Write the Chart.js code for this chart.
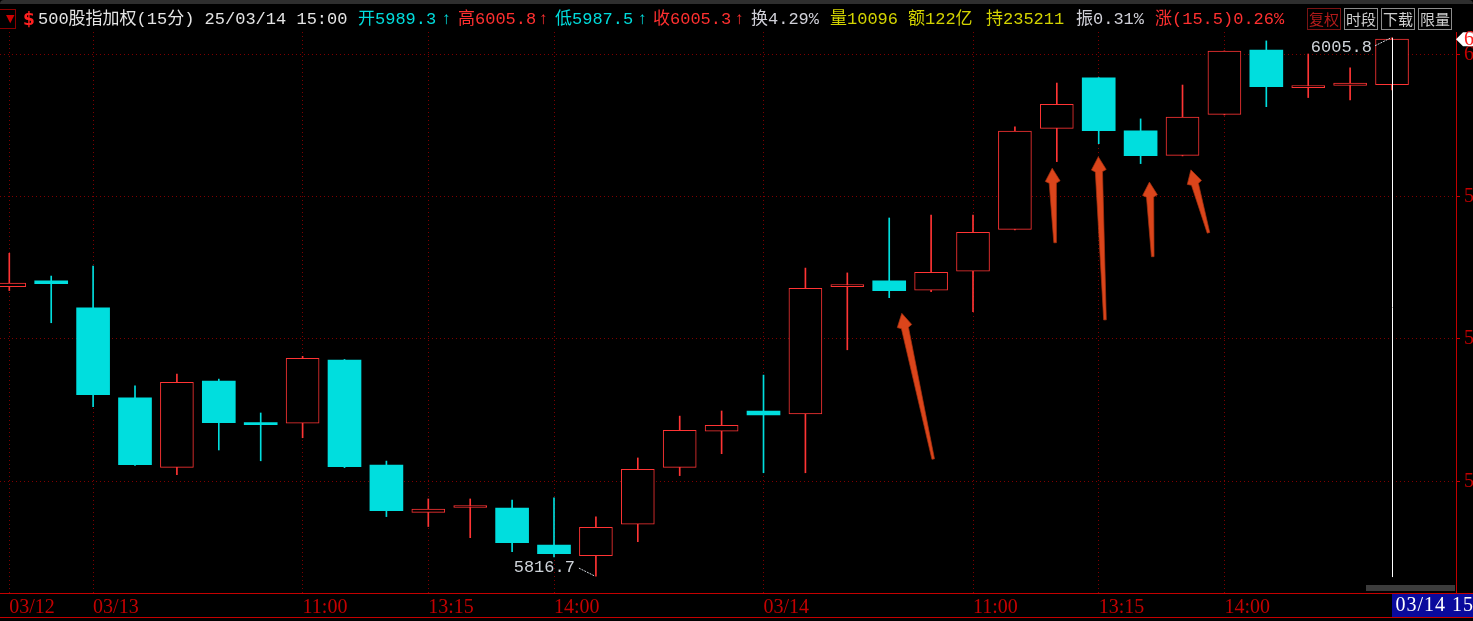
<!DOCTYPE html>
<html><head><meta charset="utf-8">
<script src="https://cdn.jsdelivr.net/npm/chart.js@4.4.1/dist/chart.umd.min.js"></script>
<style>
html,body{margin:0;padding:0;background:#000;overflow:hidden;width:1473px;height:621px;}
#wrap{position:relative;width:1473px;height:621px;overflow:hidden;background:#000;}
#c{position:absolute;left:0;top:0;}
#topband{position:absolute;left:0;top:0;width:1473px;height:4px;background:#2e2e2e;border-radius:10px 10px 0 0;}
.hd{position:absolute;top:9px;height:22px;line-height:22px;font-family:"Liberation Mono","Noto Sans CJK SC",monospace;font-size:17px;white-space:pre;}
.btn{position:absolute;top:8px;height:20px;width:32px;line-height:20px;text-align:center;font-family:"Noto Sans CJK SC";font-size:15px;border:1px solid #8c8c8c;color:#d0d0d0;}
</style></head>
<body><div id="wrap">
<canvas id="c" width="1520" height="621"></canvas>
<div id="topband"></div>
<div id="hdr"></div>
</div>
<script>
// ---- data ----
const times = ["03/12 14:45","03/12 15:00",
 "03/13 09:45","03/13 10:00","03/13 10:15","03/13 10:30","03/13 10:45","03/13 11:00","03/13 11:15","03/13 11:30",
 "03/13 13:15","03/13 13:30","03/13 13:45","03/13 14:00","03/13 14:15","03/13 14:30","03/13 14:45","03/13 15:00",
 "03/14 09:45","03/14 10:00","03/14 10:15","03/14 10:30","03/14 10:45","03/14 11:00","03/14 11:15","03/14 11:30",
 "03/14 13:15","03/14 13:30","03/14 13:45","03/14 14:00","03/14 14:15","03/14 14:30","03/14 14:45","03/14 15:00"];
const opens  = [5918.4,5920.4,5910.9,5879.3,5854.9,5885.2,5870.5,5870.4,5892.6,5855.7,5839.1,5840.8,5840.6,5827.6,5823.9,5834.9,5854.9,5867.6,5874.7,5873.7,5918.4,5920.4,5917.1,5923.8,5938.5,5974.0,5991.7,5973.1,5964.5,5978.9,6001.5,5988.3,5989.1,5989.3];
const highs  = [5930.1,5922.1,5925.6,5883.5,5887.7,5885.9,5874.0,5893.9,5892.8,5857.1,5843.8,5843.8,5843.4,5844.2,5837.5,5858.2,5872.9,5874.7,5887.3,5924.9,5923.2,5942.5,5943.5,5943.5,5974.5,5989.9,5991.8,5977.3,5989.2,6001.2,6004.7,6000.1,5995.2,6005.8];
const lows   = [5917.0,5905.7,5876.2,5855.6,5852.3,5861.0,5857.2,5865.3,5854.8,5837.6,5834.1,5830.2,5825.3,5823.4,5816.7,5828.8,5852.0,5859.7,5853.0,5853.0,5896.2,5914.5,5916.6,5909.6,5938.3,5962.3,5968.6,5961.6,5964.3,5978.7,5981.6,5984.8,5984.0,5987.5];
const closes = [5919.6,5919.4,5880.4,5855.8,5884.8,5870.6,5869.9,5893.2,5855.1,5839.7,5840.2,5841.2,5828.4,5824.6,5833.8,5854.2,5867.9,5869.7,5873.3,5917.8,5918.6,5917.0,5923.4,5937.5,5973.0,5982.4,5973.2,5964.4,5977.9,6001.1,5988.6,5988.5,5989.9,6005.3];
const tickIndex  = [0,2,7,10,13,18,23,26,29];
const tickLabels = ["03/12","03/13","11:00","13:15","14:00","03/14","11:00","13:15","14:00"];
const yTicks = [5850,5900,5950,6000];
// hand-drawn arrows (data coords): [tailIndex, tailPrice, tipIndex, tipPrice]
const arrows = [[22.05,5857.8,21.30,5909.0],[24.96,5933.8,24.89,5960.0],[26.15,5906.7,25.99,5964.0],[27.29,5928.9,27.21,5955.1],[28.62,5937.3,28.20,5959.4]];
const headerTitle = "500股指加权(15分) 25/03/14 15:00";
const statTexts = ["换4.29%","量10096","额122亿","持235211","振0.31%","涨(15.5)0.26%"];

const RED='#ff3434', CYAN='#00dede', AXR='#c40000', GRID='#7e0000';
const up = i => closes[i] >= opens[i];
const L = closes.length - 1;

// ---- header ----
const CT='#00dcdc', RT='#ff3030', GT='#d0d0d8', YT='#d4d400';
const segs = [
 [38, headerTitle, '#e4e4e4'],
 [358, '开'+opens[L].toFixed(1), CT], [441, '↑', CT],
 [458, '高'+highs[L].toFixed(1), RT], [538, '↑', RT],
 [555, '低'+lows[L].toFixed(1), CT], [637, '↑', CT],
 [653, '收'+closes[L].toFixed(1), RT], [734, '↑', RT],
 [751, statTexts[0], GT], [830, statTexts[1], YT], [908, statTexts[2], YT],
 [986, statTexts[3], YT], [1076, statTexts[4], GT], [1155, statTexts[5], RT]
];
const hdr = document.getElementById('hdr');
let h = '<div style="position:absolute;left:-4px;top:9px;width:18px;height:18px;border:1px solid #8a0000;"></div>'+
        '<div style="position:absolute;left:6px;top:9px;width:9px;height:19px;color:#d00000;font:11px \'DejaVu Sans\';line-height:19px;">▼</div>'+
        '<div style="position:absolute;left:23px;top:9px;height:22px;line-height:22px;color:#ff2020;font:bold 17px \'DejaVu Sans\';">$</div>';
segs.forEach(s => { h += `<div class="hd" style="left:${s[0]}px;color:${s[2]}">${s[1]}</div>`; });
const btns = [[1307,'复权',true],[1344,'时段',false],[1381,'下载',false],[1418,'限量',false]];
btns.forEach(b => { h += `<div class="btn" style="left:${b[0]}px;${b[2]?'border-color:#7a1414;color:#b21a1a;':''}">${b[1]}</div>`; });
hdr.innerHTML = h;

// ---- overlay plugin ----
const overlay = {
  id: 'overlay',
  afterDraw(chart) {
    const {ctx, scales:{x, y}, chartArea: ca} = chart;
    const W = chart.width;
    ctx.save();
    ctx.fillStyle = AXR;
    ctx.fillRect(0, Math.round(ca.bottom), W, 1);
    ctx.fillRect(0, 617, W, 1);
    ctx.fillStyle = '#3c3c3c';
    ctx.fillRect(1366, 585, 89, 6);
    arrows.forEach(a => {
      const x0 = x.getPixelForValue(a[0]), y0 = y.getPixelForValue(a[1]);
      const x1 = x.getPixelForValue(a[2]), y1 = y.getPixelForValue(a[3]);
      const dx = x1-x0, dy = y1-y0, len = Math.hypot(dx,dy);
      const ux = dx/len, uy = dy/len, nx = -uy, ny = ux;
      const hl = 15, hw = 7.4, sw0 = 1.3, sw1 = 3.6;
      const bx = x1 - ux*hl, by = y1 - uy*hl;
      ctx.beginPath();
      ctx.moveTo(x0 + nx*sw0, y0 + ny*sw0);
      ctx.lineTo(bx + nx*sw1, by + ny*sw1);
      ctx.lineTo(bx + nx*hw + ux*2, by + ny*hw + uy*2);
      ctx.lineTo(x1, y1);
      ctx.lineTo(bx - nx*hw + ux*2, by - ny*hw + uy*2);
      ctx.lineTo(bx - nx*sw1, by - ny*sw1);
      ctx.lineTo(x0 - nx*sw0, y0 - ny*sw0);
      ctx.closePath();
      ctx.fillStyle = '#db451b';
      ctx.fill();
      ctx.strokeStyle = '#a8300e';
      ctx.lineWidth = 0.7;
      ctx.stroke();
    });
    let hi = 0, lo = 0;
    for (let i = 0; i <= L; i++) { if (highs[i] > highs[hi]) hi = i; if (lows[i] < lows[lo]) lo = i; }
    const hx = x.getPixelForValue(hi), hy = y.getPixelForValue(highs[hi]);
    const lx = x.getPixelForValue(lo), ly = y.getPixelForValue(lows[lo]);
    const cx = Math.round(x.getPixelForValue(L)) + 0.5;
    ctx.strokeStyle = '#ffffff'; ctx.lineWidth = 1;
    ctx.beginPath(); ctx.moveTo(cx, y.getPixelForValue(highs[L])); ctx.lineTo(cx, ly + 1); ctx.stroke();
    ctx.font = '17px "Liberation Mono"';
    ctx.fillStyle = '#cfd4da';
    ctx.textAlign = 'right'; ctx.textBaseline = 'middle';
    ctx.fillText(highs[hi].toFixed(1), hx - 20, hy + 10);
    ctx.fillText(lows[lo].toFixed(1), lx - 21, ly - 9);
    ctx.strokeStyle = '#cfd4da'; ctx.setLineDash([2,1]);
    ctx.beginPath(); ctx.moveTo(hx - 17, hy + 8); ctx.lineTo(hx - 1, hy); ctx.stroke();
    ctx.beginPath(); ctx.moveTo(lx - 17, ly - 8); ctx.lineTo(lx - 1, ly); ctx.stroke();
    ctx.setLineDash([]);
    const py = y.getPixelForValue(closes[L]);
    ctx.fillStyle = '#ffffff';
    ctx.beginPath();
    ctx.moveTo(ca.right, py); ctx.lineTo(ca.right + 7, py - 7); ctx.lineTo(W, py - 7);
    ctx.lineTo(W, py + 7); ctx.lineTo(ca.right + 7, py + 7); ctx.closePath(); ctx.fill();
    ctx.fillStyle = '#ff2020'; ctx.textAlign = 'left';
    ctx.font = '20px "Liberation Serif"';
    ctx.fillText(closes[L].toFixed(1), ca.right + 8, py + 1);
    ctx.fillStyle = '#0a0a9c';
    ctx.fillRect(cx - 0.5, 594, W - cx, 23);
    ctx.fillStyle = '#ffffff';
    ctx.font = '20px "Liberation Serif"';
    ctx.letterSpacing = '1px';
    ctx.fillText(times[L], cx + 3, 606);
    ctx.restore();
  }
};

const yMax = 6007.83, yMin = 5810.76;
new Chart(document.getElementById('c'), {
  type: 'bar',
  data: {
    datasets: [
      {
        label: 'body',
        data: opens.map((o, i) => ({x: i, y: [o, closes[i]]})),
        barThickness: 33, grouped: false, borderSkipped: false, minBarLength: 2,
        backgroundColor: c => up(c.dataIndex) ? '#000000' : CYAN,
        borderColor: c => up(c.dataIndex) ? RED : CYAN,
        borderWidth: c => up(c.dataIndex) ? 1 : 0
      },
      {
        label: 'wick',
        data: lows.map((l, i) => ({x: i, y: [l, highs[i]]})),
        barThickness: 1, grouped: false, borderWidth: 0,
        backgroundColor: c => up(c.dataIndex) ? RED : CYAN
      }
    ]
  },
  options: {
    responsive: false, animation: false, devicePixelRatio: 1,
    layout: { autoPadding: false, padding: { top: 32, left: 0, right: 0, bottom: 0 } },
    plugins: { legend: { display: false }, tooltip: { enabled: false } },
    scales: {
      x: {
        type: 'linear', min: -0.222, max: 34.527, offset: false,
        afterBuildTicks: s => { s.ticks = tickIndex.map(v => ({value: v})); },
        afterFit: s => { s.height = 28; },
        grid: { color: GRID, drawTicks: false, offset: false },
        border: { display: true, color: AXR, dash: [1, 3] },
        ticks: { color: AXR, align: 'start', maxRotation: 0, autoSkip: false, padding: 3,
                 font: { family: 'Liberation Serif', size: 20 }, callback: (v, i) => tickLabels[i] }
      },
      y: {
        position: 'right', min: yMin, max: yMax,
        afterBuildTicks: s => { s.ticks = yTicks.map(v => ({value: v})); },
        afterFit: s => { s.width = 64; },
        grid: { color: GRID, drawTicks: true, tickLength: 4, tickColor: AXR, tickWidth: 1, tickBorderDash: [] },
        border: { display: true, color: AXR, dash: [1, 3] },
        ticks: { color: AXR, padding: 4, font: { family: 'Liberation Serif', size: 20 }, callback: v => String(v) }
      }
    }
  },
  plugins: [overlay]
});
</script>
</body></html>
